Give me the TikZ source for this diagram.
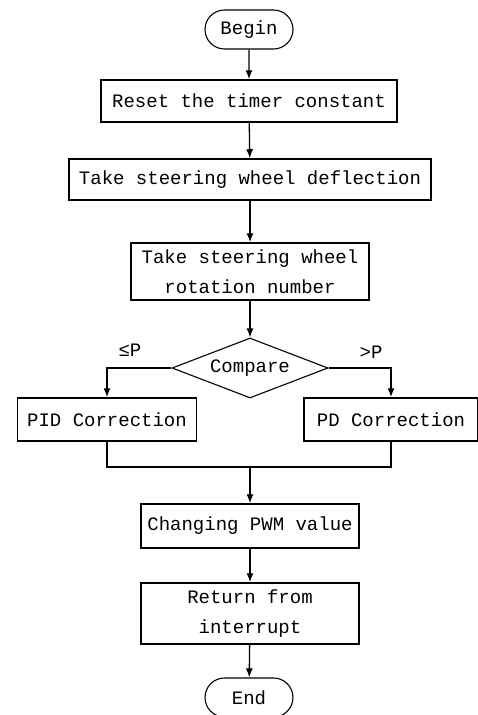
\documentclass[tikz,border=0pt]{standalone}
\usepackage{fontspec}
\setmonofont{Liberation Mono}
\usetikzlibrary{shapes.geometric,shapes.misc,arrows.meta}
\begin{document}
\begin{tikzpicture}[x=1pt,y=-1pt,
  every node/.style={font=\ttfamily\fontsize{19}{30}\selectfont, text=black},
  procbox/.style={draw, line width=1.5pt, rectangle, inner sep=0pt, align=center},
  term/.style={draw, line width=1.1pt, rounded rectangle, inner sep=0pt, minimum width=88pt, minimum height=39pt},
  decide/.style={draw, line width=1.1pt, diamond, aspect=2.6, inner sep=0pt, minimum width=156pt, minimum height=60pt},
  arr/.style={line width=1.3pt, -{Latex[length=9pt,width=7pt]}},
  ln/.style={line width=1.3pt}]
\useasboundingbox (0,0) rectangle (477,715);
\fill[white] (0,0) rectangle (477,715);
\node[term] (begin) at (249,29.5) {Begin};
\node[procbox, minimum width=296pt, minimum height=42pt] (reset) at (249,101) {Reset the timer constant};
\node[procbox, minimum width=362pt, minimum height=41pt] (defl) at (250,179.5) {Take steering wheel deflection};
\node[procbox, minimum width=238pt, minimum height=57pt] (rot) at (250,271.5) {Take steering wheel\\rotation number};
\node[decide] (cmp) at (250,368) {Compare};
\node[procbox, minimum width=179pt, minimum height=43pt] (pid) at (107,419.5) {PID Correction};
\node[procbox, minimum width=174pt, minimum height=43pt] (pd) at (391,419.5) {PD Correction};
\node (le) at (130,350) {≤P};
\node (gt) at (371,352) {>P};
\coordinate (m) at (250,467);
\node[procbox, minimum width=218pt, minimum height=44pt] (chg) at (250,526) {Changing PWM value};
\node[procbox, minimum width=218pt, minimum height=61pt] (ret) at (250,613.5) {Return from\\interrupt};
\node[term] (end) at (249,697.5) {End};
\draw[arr] (begin) -- (reset);
\draw[arr] (reset) -- (defl);
\draw[arr] (defl) -- (rot);
\draw[arr] (rot) -- (cmp);
\draw[arr] (cmp.west) -| (pid.north);
\draw[arr] (cmp.east) -| (pd.north);
\draw[ln] (pid.south) |- (m) -| (pd.south);
\draw[arr] (m) -- (chg.north);
\draw[arr] (chg) -- (ret);
\draw[arr] (ret) -- (end);
\end{tikzpicture}
\end{document}
